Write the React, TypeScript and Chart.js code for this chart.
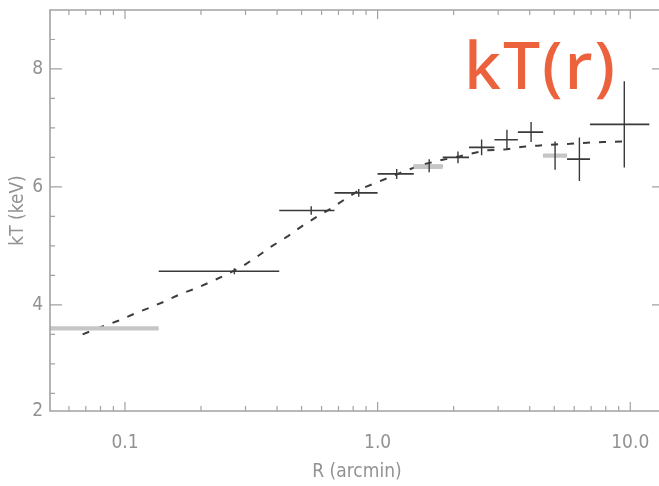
import React, { useEffect, useRef } from 'react';
import { Chart, registerables } from 'chart.js';

Chart.register(...registerables);

// ---- data ----
const binLo = [0.136, 0.408, 0.675, 1.0, 1.39, 1.81, 2.30, 2.90, 3.59, 4.52, 5.62, 6.93];
const binHi = [0.408, 0.675, 1.0, 1.39, 1.81, 2.30, 2.90, 3.59, 4.52, 5.62, 6.93, 11.9];
const binMid = [0.271, 0.546, 0.842, 1.19, 1.60, 2.08, 2.58, 3.25, 4.05, 5.04, 6.29, 9.47];
const kT = [4.57, 5.60, 5.90, 6.22, 6.36, 6.50, 6.67, 6.80, 6.93, 6.53, 6.47, 7.06];
const kTErr = [0.05, 0.07, 0.065, 0.085, 0.11, 0.10, 0.135, 0.17, 0.17, 0.24, 0.37, 0.73];

const greyLo = [0.05, 1.39, 4.52];
const greyHi = [0.136, 1.81, 5.62];
const greyKT = [3.60, 6.34, 6.53];

const modelR = [0.068, 0.081, 0.094, 0.109, 0.125, 0.144, 0.167, 0.191, 0.221, 0.254, 0.291, 0.334, 0.383, 0.44, 0.504, 0.578, 0.657, 0.76, 0.872, 1.0, 1.17, 1.34, 1.54, 1.81, 2.12, 2.43, 2.73, 3.25, 3.76, 4.31, 5.04, 5.78, 6.75, 7.81, 9.3];
const modelKT = [3.50, 3.63, 3.73, 3.85, 3.95, 4.06, 4.19, 4.28, 4.40, 4.52, 4.65, 4.82, 5.00, 5.16, 5.34, 5.50, 5.64, 5.82, 5.98, 6.08, 6.20, 6.30, 6.39, 6.46, 6.52, 6.58, 6.62, 6.64, 6.68, 6.70, 6.72, 6.73, 6.75, 6.76, 6.77];

const xTickValues = [0.1, 1, 10];
const xTickLabels = ['0.1', '1.0', '10.0'];
const X_MIN = 0.0505;
const X_MAX = 13.6;

const Y_MIN = 2.2;
const Y_MAX = 9.0;
const yTickValues = [Y_MIN, 4, 6, 8];
const yTickLabels = ['2', '4', '6', '8'];
const yMajor = [4, 6, 8];
const yMinorStep = 0.5;

const TITLE = 'kT(r)';
const X_TITLE = 'R (arcmin)';
const Y_TITLE = 'kT (keV)';

// ---- styles ----
const FONT = "'Liberation Sans Narrow', 'DejaVu Sans Condensed', 'Liberation Sans', sans-serif";
const TEXT_COLOR = '#929292';
const AXIS_COLOR = '#a2a2a2';
const DATA_COLOR = '#3a3a3a';
const GREY_COLOR = '#c6c6c6';
const MODEL_COLOR = '#3c3c3c';
const TITLE_COLOR = '#EB623D';

function segments(lo: number[], hi: number[], v: number[]) {
  const pts: any[] = [];
  lo.forEach((l, i) => {
    pts.push({ x: l, y: v[i] });
    pts.push({ x: hi[i], y: v[i] });
    pts.push({ x: hi[i], y: null });
  });
  return pts;
}

function verticals(mid: number[], v: number[], e: number[]) {
  const pts: any[] = [];
  mid.forEach((m, i) => {
    pts.push({ x: m, y: v[i] - e[i] });
    pts.push({ x: m, y: v[i] + e[i] });
    pts.push({ x: m, y: null });
  });
  return pts;
}

const frameTicks = {
  id: 'frameTicks',
  afterDatasetsDraw(chart: any) {
    const { ctx, chartArea } = chart;
    const { left, right, top, bottom } = chartArea;
    const x = chart.scales.x;
    const y = chart.scales.y;
    ctx.save();
    ctx.strokeStyle = AXIS_COLOR;
    ctx.lineWidth = 1.6;
    ctx.beginPath();
    ctx.moveTo(right + 2, top);
    ctx.lineTo(left, top);
    ctx.lineTo(left, bottom);
    ctx.lineTo(right + 2, bottom);
    ctx.stroke();
    ctx.lineWidth = 1.2;
    ctx.beginPath();
    for (let d = 0.01; d <= 10; d *= 10) {
      for (let m = 1; m <= 9; m++) {
        const v = m * d;
        if (v <= X_MIN * 1.02 || v >= X_MAX) continue;
        const px = x.getPixelForValue(v);
        const len = m === 1 ? 9 : 5;
        ctx.moveTo(px, bottom);
        ctx.lineTo(px, bottom - len);
        ctx.moveTo(px, top);
        ctx.lineTo(px, top + len);
      }
    }
    for (let v = 2.5; v < Y_MAX; v += yMinorStep) {
      const py = y.getPixelForValue(v);
      const len = yMajor.includes(v) ? 12 : 5;
      ctx.moveTo(left, py);
      ctx.lineTo(left + len, py);
      ctx.moveTo(right, py);
      ctx.lineTo(right - len, py);
    }
    ctx.stroke();
    ctx.restore();
  },
  afterDraw(chart: any) {
    const ctx = chart.ctx;
    ctx.save();
    ctx.font = "500 66px 'Noto Sans', sans-serif";
    ctx.fillStyle = TITLE_COLOR;
    ctx.textBaseline = 'alphabetic';
    ctx.textAlign = 'left';
    try { (ctx as any).letterSpacing = '2px'; } catch (e) {}
    ctx.fillText(TITLE, 464, 89);
    ctx.restore();
  },
};

export default function App() {
  const ref = useRef<HTMLCanvasElement>(null);
  useEffect(() => {
    const canvas = ref.current!;
    const chart = new Chart(canvas, {
      type: 'line',
      data: {
        datasets: [
          {
            data: verticals(binMid, kT, kTErr),
            borderColor: DATA_COLOR,
            borderWidth: 1.4,
            pointRadius: 0,
            spanGaps: false,
            order: 1,
          },
          {
            data: segments(greyLo, greyHi, greyKT),
            borderColor: GREY_COLOR,
            borderWidth: 4.2,
            borderCapStyle: 'butt',
            pointRadius: 0,
            spanGaps: false,
            order: 2,
          },
          {
            data: segments(binLo, binHi, kT),
            borderColor: DATA_COLOR,
            borderWidth: 1.7,
            pointRadius: 0,
            spanGaps: false,
            order: 3,
          },
          {
            data: modelR.map((r, i) => ({ x: r, y: modelKT[i] })),
            borderColor: MODEL_COLOR,
            borderWidth: 2,
            borderDash: [7, 9],
            pointRadius: 0,
            tension: 0,
            order: 4,
          },
        ] as any,
      },
      options: {
        animation: false,
        responsive: false,
        devicePixelRatio: 1,
        layout: { padding: { top: 10, right: 1, left: 0, bottom: 0 } },
        plugins: { legend: { display: false }, tooltip: { enabled: false }, title: { display: false } },
        scales: {
          x: {
            type: 'logarithmic',
            min: X_MIN,
            max: X_MAX,
            grid: { display: false, drawTicks: false },
            border: { display: false },
            afterBuildTicks: (s: any) => { s.ticks = xTickValues.map((v) => ({ value: v })); },
            afterFit: (s: any) => { s.height = 75; s.paddingLeft = 0; s.paddingRight = 0; },
            ticks: {
              autoSkip: false,
              maxRotation: 0,
              padding: 21,
              color: TEXT_COLOR,
              font: { family: FONT, size: 19 },
              callback: (_v: any, i: number) => xTickLabels[i],
            },
            title: {
              display: true,
              text: X_TITLE,
              color: TEXT_COLOR,
              font: { family: FONT, size: 19 },
              padding: { top: 0, bottom: 3 },
            },
          },
          y: {
            type: 'linear',
            min: Y_MIN,
            max: Y_MAX,
            grid: { display: false, drawTicks: false },
            border: { display: false },
            afterBuildTicks: (s: any) => { s.ticks = yTickValues.map((v) => ({ value: v })); },
            afterFit: (s: any) => { s.width = 50; s.paddingTop = 0; s.paddingBottom = 0; },
            ticks: {
              autoSkip: false,
              padding: 7,
              color: TEXT_COLOR,
              font: { family: FONT, size: 19 },
              callback: (_v: any, i: number) => yTickLabels[i],
            },
            title: {
              display: true,
              text: Y_TITLE,
              color: TEXT_COLOR,
              font: { family: FONT, size: 19 },
              padding: { top: 7, bottom: 0 },
            },
          },
        },
      } as any,
      plugins: [frameTicks],
    });
    return () => chart.destroy();
  }, []);
  return (
    <div style={{ position: 'absolute', left: 0, top: 0, width: 659, height: 486, overflow: 'hidden', background: '#fff' }}>
      <canvas ref={ref} width={665} height={486} style={{ width: 665, height: 486, display: 'block' }} />
    </div>
  );
}
